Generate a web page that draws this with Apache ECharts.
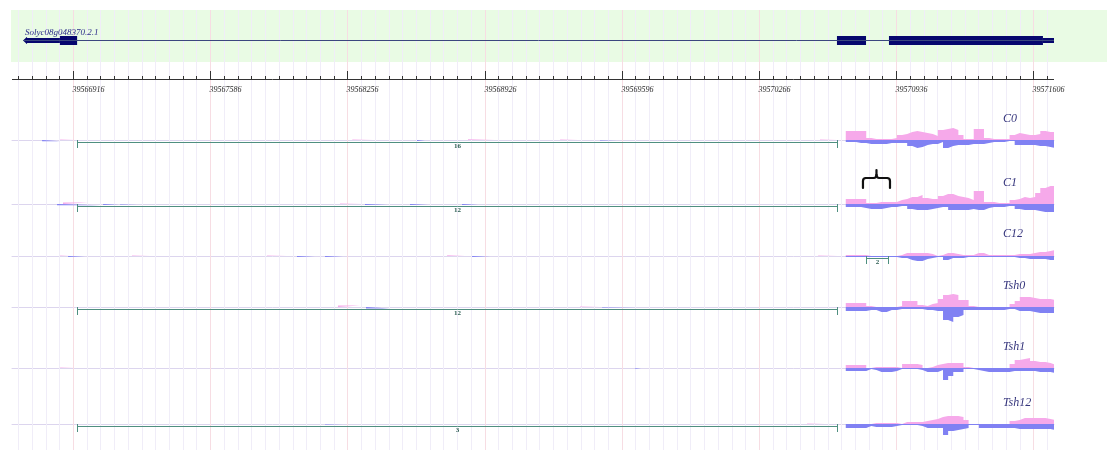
<!DOCTYPE html>
<html>
<head>
<meta charset="utf-8">
<title>Solyc08g048370.2.1 coverage</title>
<script src="https://cdn.jsdelivr.net/npm/echarts@6/dist/echarts.min.js"></script>
<style>
  html, body { margin: 0; padding: 0; background: #ffffff; }
  #chart { width: 1107px; height: 450px; }
</style>
</head>
<body>
<div id="chart"></div>
<script>
// ---- genomic window (bp) ----
const XMIN = 39566618;
const XMAX = 39571707;
const tickLabels = [39566916, 39567586, 39568256, 39568926, 39569596, 39570266, 39570936, 39571606];
const minorStep = 67;

// ---- gene model ----
const geneName = 'Solyc08g048370.2.1';
const geneSpan = [39566672, 39571707];
const geneExons = [
  [39566672, 39566852, 'utr'],
  [39566852, 39566936, 'cds'],
  [39570647, 39570789, 'cds'],
  [39570901, 39571653, 'cds'],
  [39571653, 39571707, 'utr']
];

// ---- coverage over the 3' exons: 25 bp bins starting at covStart ----
const covStart = 39570690;
const covBin = 25;

const c0Plus   = [9,9,9,9,2,1,1,1,1,2,5,6,8,9,8,7,6,4,10,11,12,10,5,1,1,11,11,2,1,1,1,1,5,7,6,5,5,6,9,8,8];
const c0Minus  = [2,2,3,3,4,4,4,4,3,3,3,3,6,8,7,5,4,4,2,8,6,5,5,5,4,4,4,3,2,2,2,1,1,5,5,5,5,6,6,7,8];
const c1Plus   = [5,5,5,5,1,1,2,2,2,2,4,5,7,7,9,6,5,5,8,10,10,8,7,6,4,13,13,2,2,1,1,1,4,5,7,6,7,11,16,18,18];
const c1Minus  = [3,3,3,4,5,5,5,4,3,3,2,2,5,6,6,6,5,4,3,3,6,6,6,6,5,6,6,4,3,3,3,2,2,5,6,6,6,7,8,8,8];
const c12Plus  = [1,1,1,1,0,0,0,0,0,0,1,3,3,3,3,3,2,0,1,3,3,2,1,1,1,3,3,1,1,1,1,1,1,2,2,2,3,4,4,5,6];
const c12Minus = [1,1,1,1,1,1,1,1,1,1,2,2,4,5,5,3,2,1,1,4,2,2,2,1,1,1,1,1,1,1,1,1,1,2,2,3,3,3,3,4,4];
const tsh0Plus  = [4,4,4,4,1,0,0,0,0,0,1,6,6,6,2,1,3,4,8,12,13,12,7,7,1,0,0,0,0,0,0,0,3,6,10,10,9,8,8,8,7];
const tsh0Minus = [4,4,4,4,3,3,5,5,3,3,2,2,2,2,2,3,3,4,4,13,15,10,8,3,3,3,3,3,3,3,3,2,2,4,4,4,5,6,6,6,6];
const tsh1Plus  = [3,3,3,3,0,1,1,1,1,1,0,4,4,4,3,0,1,3,4,5,5,5,5,1,0,0,0,0,0,0,0,0,4,8,9,10,7,6,6,5,3];
const tsh1Minus = [3,3,3,3,1,2,4,4,4,3,1,1,1,1,2,4,4,4,2,12,8,4,4,1,1,2,3,4,4,4,4,4,3,3,3,3,3,4,4,4,5];
const tsh12Plus  = [0,0,0,0,0,1,1,1,1,1,0,2,2,2,2,3,4,5,7,8,8,8,7,4,0,0,0,0,0,0,0,0,3,4,6,6,6,6,6,5,4];
const tsh12Minus = [4,4,4,4,2,3,3,3,3,2,1,1,1,1,2,4,4,4,4,11,7,6,5,4,1,1,4,4,4,4,4,4,4,5,5,5,5,5,5,5,6];

// ---- sparse low-coverage reads elsewhere: [start, end, depth] (negative = minus strand) ----
const c0Blips = [[39566765,39566853,-1.2],[39566853,39566926,0.5],[39568280,39568380,0.6],[39568596,39568635,-1],
                 [39568845,39568975,0.8],[39569295,39569382,0.6],[39569490,39569573,-0.6],[39570564,39570647,0.6]];
const c1Blips = [[39566838,39567048,-1.2],[39566867,39566989,1.5],[39567063,39567140,-1],[39567146,39567229,-0.4],
                 [39568220,39568327,0.4],[39568342,39568450,-1],[39568562,39568650,-1],[39568816,39568894,-1]];
const c12Blips = [[39566853,39566902,0.4],[39566892,39566975,-1],[39567204,39567292,0.4],[39567863,39567961,0.4],
                  [39568010,39568098,-1],[39568147,39568235,-1],[39568743,39568831,0.7],[39568865,39568953,-1],
                  [39570555,39570652,0.5]];
const tsh0Blips = [[39568210,39568318,1.5],[39568347,39568464,-1.5],[39569392,39569490,0.5],[39569500,39569675,-0.6]];
const tsh1Blips = [[39566853,39566926,0.5],[39569661,39569690,-0.8]];
const tsh12Blips = [[39568147,39568235,-0.5],[39570501,39570589,0.5]];

// ---- splice junctions: [start, end, read count] ----
const c0Junctions = [[39566936, 39570647, 16]];
const c1Junctions = [[39566936, 39570647, 12]];
const c12Junctions = [[39570789, 39570896, 2]];
const tsh0Junctions = [[39566936, 39570647, 12]];
const tsh1Junctions = [];
const tsh12Junctions = [[39566936, 39570647, 3]];

// highlighted region above C1
const braceSpan = [39570774, 39570906];

const trackNames = ['C0', 'C1', 'C12', 'Tsh0', 'Tsh1', 'Tsh12'];
const trackPlus = [c0Plus, c1Plus, c12Plus, tsh0Plus, tsh1Plus, tsh12Plus];
const trackMinus = [c0Minus, c1Minus, c12Minus, tsh0Minus, tsh1Minus, tsh12Minus];
const trackBlips = [c0Blips, c1Blips, c12Blips, tsh0Blips, tsh1Blips, tsh12Blips];
const trackJunctions = [c0Junctions, c1Junctions, c12Junctions, tsh0Junctions, tsh1Junctions, tsh12Junctions];

// ---- layout & style ----
const GRID_LEFT = 12, GRID_RIGHT = 53;
const trackBase = [140, 204, 256, 307, 368, 424];   // pixel row of each track's zero line
const trackLabelY = [119, 183, 234, 286, 347, 403];
const TRACK_HALF = 20;
const GENE_Y = 40.5;
const RULER_Y = 79;
const BAND = { top: 10, bottom: 62 };
const COLORS = {
  green: '#e9fbe4', minor: '#f0edf8', major: '#f7dde3', ruler: '#333333', rulerText: '#2a2a2a',
  geneLine: '#3b477f', exon: '#06066e', geneText: '#2c2c8a',
  plus: '#f6a9ea', minus: '#8081f3', baseline: '#dcd5ee',
  junction: '#4f8f80', junctionText: '#2b5d52', label: '#35357c'
};
const SERIF = '"Liberation Serif", "DejaVu Serif", serif';

// ruler ticks every minorStep, major every tenth
const ticks = [];
const t0 = tickLabels[0];
for (let k = Math.ceil((XMIN - t0) / minorStep); t0 + k * minorStep <= XMAX; k++) {
  ticks.push([t0 + k * minorStep, k % 10 === 0 ? 1 : 0]);
}

function strandPoints(bins, blips, sign) {
  const pts = [];
  blips.filter(b => Math.sign(b[2]) === sign).forEach(b => {
    const v = sign * Math.abs(b[2]);
    pts.push([b[0], v], [b[1], v], [b[1], '-']);
  });
  bins.forEach((v, i) => pts.push([covStart + i * covBin, sign * v]));
  pts.push([covStart + bins.length * covBin, sign * bins[bins.length - 1]]);
  return pts;
}

const grids = [{ left: GRID_LEFT, right: GRID_RIGHT, top: 0, bottom: 0 }];
const xAxes = [{ type: 'value', gridIndex: 0, min: XMIN, max: XMAX, show: false }];
const yAxes = [{ type: 'value', gridIndex: 0, min: 0, max: 450, inverse: true, show: false }];
trackNames.forEach((name, i) => {
  grids.push({ left: GRID_LEFT, right: GRID_RIGHT, top: trackBase[i] - TRACK_HALF, height: TRACK_HALF * 2 });
  xAxes.push({
    type: 'value', gridIndex: i + 1, min: XMIN, max: XMAX,
    axisLine: { show: true, onZero: true, lineStyle: { color: COLORS.baseline, width: 1 } },
    axisTick: { show: false }, axisLabel: { show: false }, splitLine: { show: false }
  });
  yAxes.push({ type: 'value', gridIndex: i + 1, min: -TRACK_HALF, max: TRACK_HALF, show: false });
});

const series = [];

// vertical grid lines
series.push({
  type: 'custom', xAxisIndex: 0, yAxisIndex: 0, silent: true, z: 1, data: ticks,
  renderItem: (params, api) => {
    const x = Math.round(api.coord([api.value(0), 0])[0]) + 0.5;
    const y1 = api.coord([XMIN, BAND.top])[1];
    const y2 = api.coord([XMIN, 450])[1];
    return { type: 'line', shape: { x1: x, y1: y1, x2: x, y2: y2 },
      style: { stroke: api.value(1) ? COLORS.major : COLORS.minor, lineWidth: 1 } };
  }
});

// ruler baseline
series.push({
  type: 'line', xAxisIndex: 0, yAxisIndex: 0, silent: true, symbol: 'none',
  data: [[XMIN, RULER_Y + 0.5], [XMAX, RULER_Y + 0.5]],
  lineStyle: { color: COLORS.ruler, width: 1 }
});

// ruler ticks and labels
series.push({
  type: 'custom', xAxisIndex: 0, yAxisIndex: 0, silent: true, data: ticks,
  renderItem: (params, api) => {
    const bp = api.value(0), major = api.value(1);
    const p = api.coord([bp, RULER_Y]);
    const x = Math.round(p[0]) + 0.5;
    const children = [{ type: 'line', shape: { x1: x, y1: p[1] - (major ? 8 : 3), x2: x, y2: p[1] },
      style: { stroke: COLORS.ruler, lineWidth: 1 } }];
    if (major) {
      children.push({ type: 'text', x: x - 1, y: p[1] + 10.5,
        style: { text: String(bp), font: 'italic 8px ' + SERIF, fill: COLORS.rulerText, align: 'left', verticalAlign: 'middle' } });
    }
    return { type: 'group', children: children };
  }
});

// gene backbone
series.push({
  type: 'line', xAxisIndex: 0, yAxisIndex: 0, silent: true, symbol: 'none',
  data: [[geneSpan[0], GENE_Y], [geneSpan[1], GENE_Y]],
  lineStyle: { color: COLORS.geneLine, width: 1 }
});

// exons (minus-strand gene: arrow on the 5' end at the left)
series.push({
  type: 'custom', xAxisIndex: 0, yAxisIndex: 0, silent: true,
  data: geneExons.map(e => [e[0], e[1], e[2] === 'cds' ? 1 : 0]),
  renderItem: (params, api) => {
    const a = api.coord([api.value(0), GENE_Y]);
    const b = api.coord([api.value(1), GENE_Y]);
    const h = api.value(2) ? 9 : 5;
    if (params.dataIndex === 0) {
      const yc = a[1];
      return { type: 'polygon', shape: { points: [
        [a[0], yc], [a[0] + 4, yc - 3.8], [a[0] + 4, yc - h / 2], [b[0], yc - h / 2],
        [b[0], yc + h / 2], [a[0] + 4, yc + h / 2], [a[0] + 4, yc + 3.8]] },
        style: { fill: COLORS.exon } };
    }
    return { type: 'rect', shape: { x: a[0], y: a[1] - h / 2, width: b[0] - a[0], height: h },
      style: { fill: COLORS.exon } };
  }
});

// gene name
series.push({
  type: 'custom', xAxisIndex: 0, yAxisIndex: 0, silent: true, data: [[geneSpan[0], GENE_Y]],
  renderItem: (params, api) => {
    const p = api.coord([api.value(0), api.value(1)]);
    return { type: 'text', x: p[0] + 2, y: p[1] - 8,
      style: { text: geneName, font: 'italic 9px ' + SERIF, fill: COLORS.geneText, align: 'left', verticalAlign: 'middle' } };
  }
});

// coverage tracks
trackNames.forEach((name, i) => {
  [1, -1].forEach(sign => {
    series.push({
      type: 'line', name: name + (sign > 0 ? ' +' : ' -'), xAxisIndex: i + 1, yAxisIndex: i + 1,
      silent: true, symbol: 'none', step: 'end', connectNulls: false, z: 3,
      data: strandPoints(sign > 0 ? trackPlus[i] : trackMinus[i], trackBlips[i], sign),
      lineStyle: { width: 0, opacity: 0 },
      areaStyle: { color: sign > 0 ? COLORS.plus : COLORS.minus, opacity: 1 }
    });
  });
  series.push({
    type: 'custom', xAxisIndex: i + 1, yAxisIndex: i + 1, silent: true, z: 4,
    data: trackJunctions[i],
    renderItem: (params, api) => {
      const a = api.coord([api.value(0), 0]);
      const b = api.coord([api.value(1), 0]);
      const xa = Math.round(a[0]) + 0.5, xb = Math.round(b[0]) + 0.5;
      const y = a[1];
      const st = { stroke: COLORS.junction, lineWidth: 1 };
      return { type: 'group', children: [
        { type: 'line', shape: { x1: xa, y1: y + 2.5, x2: xb, y2: y + 2.5 }, style: st },
        { type: 'line', shape: { x1: xa, y1: y, x2: xa, y2: y + 8 }, style: st },
        { type: 'line', shape: { x1: xb, y1: y, x2: xb, y2: y + 8 }, style: st },
        { type: 'text', x: (xa + xb) / 2, y: y + 6.5,
          style: { text: String(api.value(2)), font: 'bold 7px ' + SERIF, fill: COLORS.junctionText,
            align: 'center', verticalAlign: 'middle' } }
      ] };
    }
  });
});

// brace marking the short intron, drawn above the C1 track
series.push({
  type: 'custom', xAxisIndex: 2, yAxisIndex: 2, silent: true, z: 5, data: [braceSpan],
  renderItem: (params, api) => {
    const a = api.coord([api.value(0), 0]);
    const b = api.coord([api.value(1), 0]);
    const x0 = a[0], x1 = b[0], xc = (x0 + x1) / 2;
    const yt = a[1] - 34, ym = a[1] - 26, yb = a[1] - 16, r = 3;
    const st = { stroke: '#111111', lineWidth: 2.2, fill: null, lineCap: 'round' };
    const seg = (p, q) => ({ type: 'line', shape: { x1: p[0], y1: p[1], x2: q[0], y2: q[1] }, style: st });
    const curve = (p, c, q) => ({ type: 'bezierCurve',
      shape: { x1: p[0], y1: p[1], cpx1: c[0], cpy1: c[1], x2: q[0], y2: q[1] }, style: st });
    return { type: 'group', children: [
      seg([x0, yb], [x0, ym + r]),
      curve([x0, ym + r], [x0, ym], [x0 + r, ym]),
      seg([x0 + r, ym], [xc - r, ym]),
      curve([xc - r, ym], [xc, ym], [xc, ym - r]),
      seg([xc, ym - r], [xc, yt]),
      curve([xc, ym - r], [xc, ym], [xc + r, ym]),
      seg([xc + r, ym], [x1 - r, ym]),
      curve([x1 - r, ym], [x1, ym], [x1, ym + r]),
      seg([x1, ym + r], [x1, yb])
    ] };
  }
});

const graphics = [
  { type: 'rect', silent: true, z: 0, shape: { x: 11, y: BAND.top, width: 1096, height: BAND.bottom - BAND.top },
    style: { fill: COLORS.green } }
];
trackNames.forEach((name, i) => {
  graphics.push({ type: 'text', silent: true, z: 100, x: 1003, y: trackLabelY[i],
    style: { text: name, font: 'italic 12px ' + SERIF, fill: COLORS.label, align: 'left', verticalAlign: 'middle' } });
});

const chart = echarts.init(document.getElementById('chart'), null, { renderer: 'canvas' });
chart.setOption({
  animation: false,
  backgroundColor: '#ffffff',
  grid: grids,
  xAxis: xAxes,
  yAxis: yAxes,
  graphic: graphics,
  series: series
});
</script>
</body>
</html>
